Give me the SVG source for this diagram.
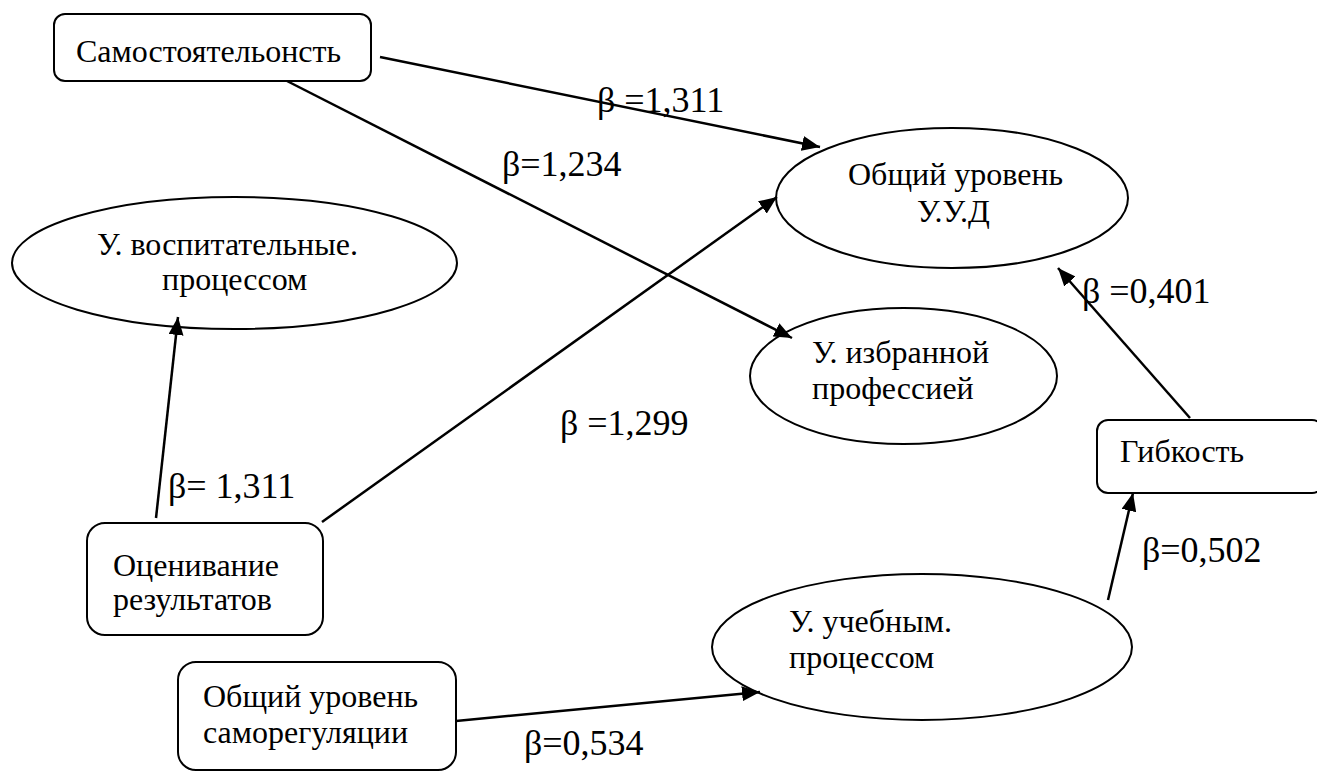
<svg xmlns="http://www.w3.org/2000/svg" width="1317" height="771" viewBox="0 0 1317 771">
<defs>
<style>
.box{fill:#fff;stroke:#000;stroke-width:2}
.ell{fill:#fff;stroke:#000;stroke-width:2}
text{font-family:'Liberation Serif','Times New Roman',serif;font-size:32px;fill:#000}
text.lb{font-size:36px}
.c{stroke:#000;stroke-width:2.5;fill:none}
</style>
<marker id="ah" markerUnits="userSpaceOnUse" markerWidth="19" markerHeight="15" refX="18" refY="7.5" orient="auto">
<path d="M0,0 L18,7.5 L0,15 z" fill="#000"/>
</marker>
</defs>
<rect width="1317" height="771" fill="#fff"/>

<g id="n-samost">
<rect class="box" x="54" y="14" width="317" height="67" rx="11"/>
<text x="76" y="62">Самостоятельонсть</text>
</g>

<g id="n-obsh-uud">
<ellipse class="ell" cx="952" cy="198" rx="176" ry="70"/>
<text x="848" y="185">Общий уровень</text>
<text x="917" y="222">У.У.Д</text>
</g>

<g id="n-vospit">
<ellipse class="ell" cx="234.5" cy="263" rx="222.5" ry="66"/>
<text x="97" y="255">У. воспитательные.</text>
<text x="162" y="290">процессом</text>
</g>

<g id="n-izbran">
<ellipse class="ell" cx="903.5" cy="376" rx="153.5" ry="68"/>
<text x="812" y="363">У. избранной</text>
<text x="812" y="399">профессией</text>
</g>

<g id="n-gibkost">
<rect class="box" x="1097" y="420" width="226" height="73" rx="11"/>
<text x="1120" y="462">Гибкость</text>
</g>

<g id="n-ocen">
<rect class="box" x="87" y="523" width="236" height="112" rx="18"/>
<text x="113" y="576">Оценивание</text>
<text x="113" y="610">результатов</text>
</g>

<g id="n-ucheb">
<ellipse class="ell" cx="922" cy="647" rx="210" ry="73"/>
<text x="789" y="632">У. учебным.</text>
<text x="789" y="668">процессом</text>
</g>

<g id="n-samoreg">
<rect class="box" x="178" y="662" width="278" height="108" rx="18"/>
<text x="203" y="707">Общий уровень</text>
<text x="203" y="743">саморегуляции</text>
</g>

<g id="connectors">
<line class="c" x1="380" y1="57" x2="820" y2="147" marker-end="url(#ah)"/>
<line class="c" x1="287" y1="81" x2="792" y2="338" marker-end="url(#ah)"/>
<line class="c" x1="322" y1="522" x2="777" y2="197" marker-end="url(#ah)"/>
<line class="c" x1="156" y1="518" x2="178" y2="317" marker-end="url(#ah)"/>
<line class="c" x1="456" y1="721" x2="760" y2="692" marker-end="url(#ah)"/>
<line class="c" x1="1108" y1="600" x2="1133" y2="493" marker-end="url(#ah)"/>
<line class="c" x1="1190" y1="418" x2="1058" y2="268" marker-end="url(#ah)"/>
</g>

<g id="labels">
<text class="lb" x="597" y="112">β =1,311</text>
<text class="lb" x="502" y="176">β=1,234</text>
<text class="lb" x="1082" y="303">β =0,401</text>
<text class="lb" x="560" y="435">β =1,299</text>
<text class="lb" x="168" y="498">β= 1,311</text>
<text class="lb" x="1142" y="562">β=0,502</text>
<text class="lb" x="524" y="755">β=0,534</text>
</g>
</svg>
